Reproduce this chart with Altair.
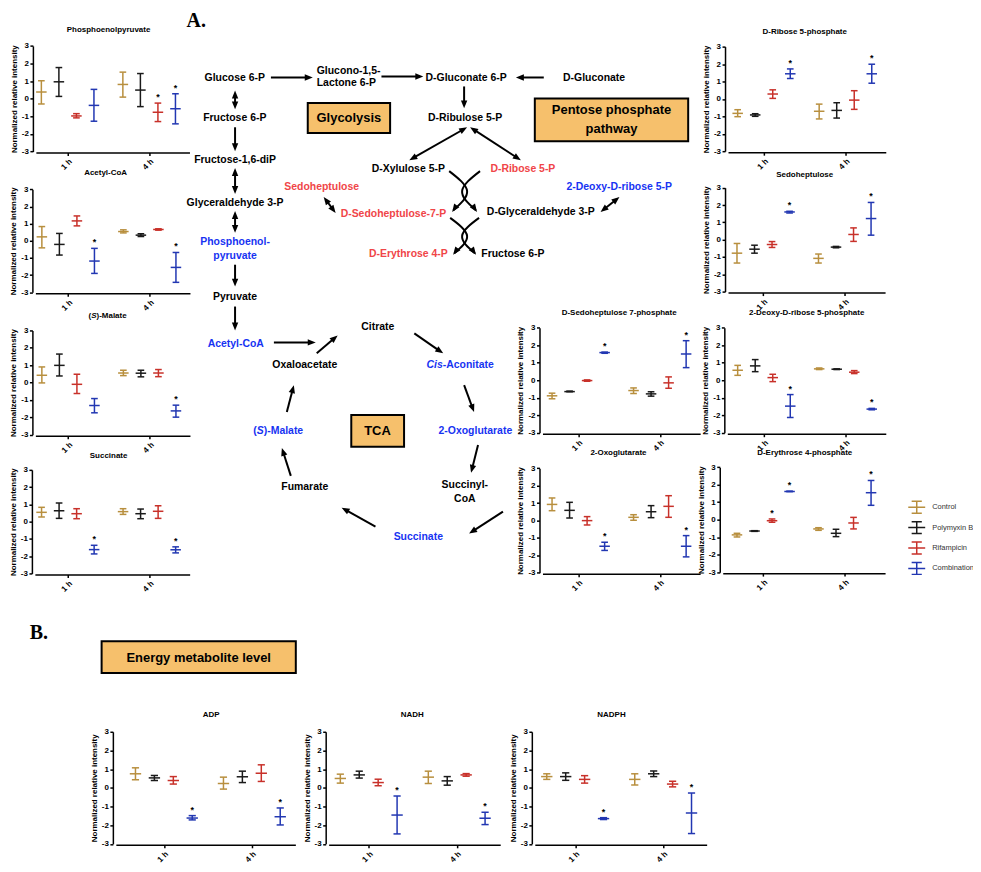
import math
import altair as alt
import pandas as pd

OFF = 8
W, H = 969, 856
FONT = "Liberation Sans"
SERIF = "Liberation Serif"

TREATMENTS = ["Control", "Polymyxin B", "Rifampicin", "Combination"]
COLORS = ["#B88F3E", "#1A1A1A", "#C8312A", "#2237B2"]
TIMES = ["1 h", "4 h"]

# order of every list: 1 h (Control, Polymyxin B, Rifampicin, Combination), 4 h (same)
PEP_MEAN = [0.38, 0.96, -0.98, -0.38, 0.81, 0.49, -0.77, -0.57]
PEP_HI = [1.02, 1.77, -0.85, 0.53, 1.51, 1.43, -0.25, 0.28]
PEP_LO = [-0.30, 0.13, -1.09, -1.28, 0.09, -0.45, -1.30, -1.43]
PEP_STAR = [0, 0, 0, 0, 0, 0, 1, 1]

ACO_MEAN = [0.23, -0.21, 1.16, -1.18, 0.54, 0.33, 0.66, -1.55]
ACO_HI = [0.83, 0.43, 1.45, -0.44, 0.64, 0.41, 0.70, -0.68]
ACO_LO = [-0.41, -0.83, 0.87, -1.90, 0.46, 0.25, 0.62, -2.42]
ACO_STAR = [0, 0, 0, 1, 0, 0, 0, 1]

MAL_MEAN = [0.42, 0.99, -0.10, -1.32, 0.55, 0.54, 0.55, -1.63]
MAL_HI = [0.90, 1.64, 0.48, -0.92, 0.71, 0.71, 0.75, -1.30]
MAL_LO = [-0.02, 0.38, -0.63, -1.74, 0.40, 0.33, 0.34, -1.99]
MAL_STAR = [0, 0, 0, 0, 0, 0, 0, 1]

SUC_MEAN = [0.54, 0.63, 0.46, -1.62, 0.58, 0.46, 0.60, -1.63]
SUC_HI = [0.83, 1.08, 0.75, -1.37, 0.75, 0.73, 0.92, -1.46]
SUC_LO = [0.27, 0.19, 0.17, -1.87, 0.42, 0.17, 0.19, -1.81]
SUC_STAR = [0, 0, 0, 1, 0, 0, 0, 1]

R5P_MEAN = [-0.83, -0.92, 0.28, 1.44, -0.71, -0.66, -0.07, 1.44]
R5P_HI = [-0.62, -0.85, 0.52, 1.72, -0.30, -0.22, 0.47, 1.99]
R5P_LO = [-1.02, -1.00, 0.03, 1.17, -1.15, -1.10, -0.60, 0.90]
R5P_STAR = [0, 0, 0, 1, 0, 0, 0, 1]

SED_MEAN = [-0.78, -0.55, -0.28, 1.60, -1.08, -0.43, 0.30, 1.22]
SED_HI = [-0.22, -0.32, -0.11, 1.64, -0.83, -0.39, 0.68, 2.15]
SED_LO = [-1.35, -0.78, -0.45, 1.54, -1.35, -0.47, -0.10, 0.26]
SED_STAR = [0, 0, 0, 1, 0, 0, 0, 1]

S7P_MEAN = [-0.89, -0.65, -0.02, 1.58, -0.59, -0.78, -0.15, 1.50]
S7P_HI = [-0.74, -0.62, 0.02, 1.61, -0.44, -0.66, 0.19, 2.26]
S7P_LO = [-1.06, -0.66, -0.06, 1.54, -0.76, -0.91, -0.46, 0.72]
S7P_STAR = [0, 0, 0, 1, 0, 0, 0, 1]

DR5P_MEAN = [0.57, 0.82, 0.15, -1.48, 0.65, 0.63, 0.46, -1.65]
DR5P_HI = [0.85, 1.18, 0.34, -0.82, 0.70, 0.65, 0.55, -1.61]
DR5P_LO = [0.28, 0.49, -0.08, -2.13, 0.61, 0.61, 0.38, -1.69]
DR5P_STAR = [0, 0, 0, 1, 0, 0, 0, 1]

OXO_MEAN = [0.92, 0.58, -0.01, -1.48, 0.18, 0.50, 0.81, -1.48]
OXO_HI = [1.29, 1.04, 0.22, -1.25, 0.33, 0.85, 1.42, -0.87]
OXO_LO = [0.56, 0.14, -0.26, -1.72, 0.01, 0.16, 0.18, -2.09]
OXO_STAR = [0, 0, 0, 1, 0, 0, 0, 1]

E4P_MEAN = [-0.87, -0.65, -0.06, 1.61, -0.53, -0.78, -0.19, 1.54]
E4P_HI = [-0.78, -0.63, 0.04, 1.63, -0.46, -0.55, 0.13, 2.24]
E4P_LO = [-0.99, -0.67, -0.15, 1.60, -0.61, -0.97, -0.53, 0.82]
E4P_STAR = [0, 0, 1, 1, 0, 0, 0, 1]

ADP_MEAN = [0.75, 0.53, 0.39, -1.62, 0.23, 0.59, 0.78, -1.55]
ADP_HI = [1.07, 0.66, 0.60, -1.49, 0.57, 0.89, 1.23, -1.08]
ADP_LO = [0.43, 0.39, 0.20, -1.72, -0.07, 0.28, 0.34, -1.99]
ADP_STAR = [0, 0, 0, 1, 0, 0, 0, 1]

NADH_MEAN = [0.50, 0.69, 0.28, -1.46, 0.57, 0.37, 0.69, -1.63]
NADH_HI = [0.73, 0.89, 0.46, -0.44, 0.89, 0.60, 0.76, -1.31]
NADH_LO = [0.25, 0.52, 0.11, -2.47, 0.23, 0.14, 0.62, -1.97]
NADH_STAR = [0, 0, 0, 1, 0, 0, 0, 1]

NADPH_MEAN = [0.60, 0.60, 0.45, -1.65, 0.45, 0.75, 0.20, -1.35]
NADPH_HI = [0.75, 0.80, 0.65, -1.60, 0.75, 0.90, 0.35, -0.28]
NADPH_LO = [0.45, 0.40, 0.25, -1.70, 0.15, 0.60, 0.05, -2.45]
NADPH_STAR = [0, 0, 0, 1, 0, 0, 0, 1]

# ---------------- layout (reference pixel coordinates) ----------------
GAP = 4.65      # offset of the 4 h group, in bar steps
XEND = 8.45     # end of x axis line, in bar steps
BT, BB, BTY = 733, 845.5, 716   # bottom row: top / bottom of y axis, title y
LS = 5          # shift of the left column, keeps its axis titles inside the page

PANELS = [
    dict(title="Phosphoenolpyruvate", d=(PEP_MEAN, PEP_LO, PEP_HI, PEP_STAR), ax=28 + LS, first=36.5 + LS, step=17.6, ytop=44.3, ybot=150.3, tx=104 + LS, ty=28, chan="color", leg=True),
    dict(title="Acetyl-CoA", d=(ACO_MEAN, ACO_LO, ACO_HI, ACO_STAR), ax=27.5 + LS, first=37 + LS, step=17.6, ytop=188.3, ybot=291.7, tx=101 + LS, ty=172, chan="color", leg=False),
    dict(title=None, d=(MAL_MEAN, MAL_LO, MAL_HI, MAL_STAR), ax=27.5 + LS, first=37 + LS, step=17.6, ytop=330, ybot=434.7, tx=103 + LS, ty=316, chan="color", leg=False),
    dict(title="Succinate", d=(SUC_MEAN, SUC_LO, SUC_HI, SUC_STAR), ax=27 + LS, first=36.7 + LS, step=17.6, ytop=470, ybot=574, tx=104 + LS, ty=455.7, chan="color", leg=False),
    dict(title="D-Ribose 5-phosphate", d=(R5P_MEAN, R5P_LO, R5P_HI, R5P_STAR), ax=728, first=740.7, step=17.6, ytop=45, ybot=150, tx=808, ty=30, chan="color", leg=False),
    dict(title="Sedoheptulose", d=(SED_MEAN, SED_LO, SED_HI, SED_STAR), ax=728, first=740, step=17.6, ytop=186.7, ybot=291, tx=808, ty=174, chan="color", leg=False),
    dict(title="D-Sedoheptulose 7-phosphate", d=(S7P_MEAN, S7P_LO, S7P_HI, S7P_STAR), ax=541.7, first=554.3, step=17.6, ytop=327.3, ybot=432.7, tx=621.7, ty=313, chan="color", leg=False),
    dict(title="2-Deoxy-D-ribose 5-phosphate", d=(DR5P_MEAN, DR5P_LO, DR5P_HI, DR5P_STAR), ax=727.3, first=740.7, step=17.6, ytop=327.3, ybot=432.7, tx=810, ty=313, chan="color", leg=False),
    dict(title="2-Oxoglutarate", d=(OXO_MEAN, OXO_LO, OXO_HI, OXO_STAR), ax=541.7, first=554.3, step=17.6, ytop=468.3, ybot=573.3, tx=621, ty=453.3, chan="color", leg=False),
    dict(title="D-Erythrose 4-phosphate", d=(E4P_MEAN, E4P_LO, E4P_HI, E4P_STAR), ax=722.7, first=740, step=17.6, ytop=467.3, ybot=572.7, tx=808, ty=453.3, chan="color", leg=False),
    dict(title="ADP", d=(ADP_MEAN, ADP_LO, ADP_HI, ADP_STAR), ax=113.3, first=136, step=19, ytop=BT, ybot=BB, tx=212, ty=BTY, chan="stroke", leg=True),
    dict(title="NADH", d=(NADH_MEAN, NADH_LO, NADH_HI, NADH_STAR), ax=327, first=341.7, step=19, ytop=BT, ybot=BB, tx=414, ty=BTY, chan="stroke", leg=False),
    dict(title="NADPH", d=(NADPH_MEAN, NADPH_LO, NADPH_HI, NADPH_STAR), ax=534, first=549, step=19, ytop=BT, ybot=BB, tx=614, ty=BTY, chan="stroke", leg=False),
]

RED = "#F04548"
BLUE = "#1733F2"
BLACK = "#000000"
BOXFILL = "#F6C06C"

TEXTS = []


def T(txt, x, y, col=BLACK, fs=10.5, align="center", italic=False, family=FONT, weight="bold"):
    TEXTS.append(dict(txt=txt, px=x - OFF, py=y - OFF, col=col, fs=fs, align=align,
                      italic=italic, family=family, weight=weight))


# diagram labels
T("A.", 197, 19, fs=20, family=SERIF)
T("B.", 39, 634, fs=20, family=SERIF)
T("Glucose 6-P", 235.7, 76.7)
T("Glucono-1,5-", 318, 69, align="left")
T("Lactone 6-P", 318, 82, align="left")
T("D-Gluconate 6-P", 468, 76.7)
T("D-Gluconate", 596.5, 76.7)
T("Fructose 6-P", 235.7, 117)
T("Glycolysis", 350.3, 117, fs=13)
T("D-Ribulose 5-P", 467, 117)
T("Pentose phosphate", 614, 109, fs=13)
T("pathway", 614, 128, fs=13)
T("Fructose-1,6-diP", 236, 159)
T("D-Xylulose 5-P", 410, 168)
T("D-Ribose 5-P", 525, 168, col=RED)
T("Sedoheptulose", 323, 185.7, col=RED)
T("2-Deoxy-D-ribose 5-P", 621.7, 185.7, col=BLUE)
T("Glyceraldehyde 3-P", 236, 201.7)
T("D-Sedoheptulose-7-P", 395, 213.3, col=RED)
T("D-Glyceraldehyde 3-P", 543, 210.7)
T("Phosphoenol-", 236, 241.7, col=BLUE)
T("pyruvate", 236, 255, col=BLUE)
T("D-Erythrose 4-P", 410, 253.3, col=RED)
T("Fructose 6-P", 515, 253.3)
T("Pyruvate", 236, 296)
T("Acetyl-CoA", 236.7, 343.3, col=BLUE)
T("Citrate", 379.3, 326.7)
T("Oxaloacetate", 306, 364.3)
T("Cis", 428.3, 364.3, col=BLUE, align="left", italic=True)
T("-Aconitate", 444.6, 364.3, col=BLUE, align="left")
T("TCA", 379, 431, fs=13)
T("(", 254.3, 431, col=BLUE, align="left")
T("S", 257.8, 431, col=BLUE, align="left", italic=True)
T(")-Malate", 264.8, 431, col=BLUE, align="left")
T("2-Oxoglutarate", 477.3, 430.7, col=BLUE)
T("Fumarate", 306, 487.3)
T("Succinyl-", 466.7, 485.7)
T("CoA", 466.7, 499)
T("Succinate", 420, 537, col=BLUE)
T("Energy metabolite level", 199.5, 658.5, fs=13)

# panel titles
for p in PANELS:
    if p["title"]:
        T(p["title"], p["tx"], p["ty"], fs=8)
# (S)-Malate panel title with italic S
T("(", 83.9 + LS, 316, fs=8, align="left")
T("S", 86.6 + LS, 316, fs=8, align="left", italic=True)
T(")-Malate", 91.9 + LS, 316, fs=8, align="left")

BOXES = [
    (309, 101.7, 391.7, 131.7),
    (537, 97, 691, 140),
    (352.7, 415, 405.7, 446.7),
    (102, 642, 297, 674),
]

# straight arrows: x1, y1, x2 (tip), y2 (tip), double-headed
ARROWS = [
    (272, 76, 314, 76, False),
    (383, 75, 425, 75, False),
    (546, 76, 518, 76, False),
    (236, 89, 236, 108, True),
    (466, 85, 466, 107, False),
    (236, 126, 236, 150, False),
    (469, 126, 411, 159, True),
    (472, 126, 523, 159, True),
    (236, 167, 236, 193, True),
    (325, 196, 337, 212, True),
    (603, 211, 622, 196, True),
    (236, 210, 236, 232, True),
    (236, 264, 236, 286, False),
    (236, 306, 236, 330, False),
    (275, 342, 317, 342, False),
    (318, 353, 339, 335, False),
    (416, 333, 445, 353, False),
    (466, 385, 476, 412, False),
    (480, 445, 473, 473, False),
    (505, 512, 471, 534, False),
    (377, 527, 343, 508, False),
    (292, 476, 283, 448, False),
    (288, 412, 295, 385, False),
]

# curved arrows (start, middle, tip)
ARCS = [
    [(451, 170), (469, 190), (454, 211)],
    [(482, 170), (464, 190), (479, 211)],
    [(452, 217), (469, 235), (455, 254)],
    [(481, 217), (464, 235), (478, 254)],
]

HEAD = "M1,0L-1,-0.8L-1,0.8Z"
HL = 4.0  # half length of the arrow head

rule_rows, head_rows, arc_rows = [], [], []


def add_head(tx, ty, ux, uy):
    ang = math.degrees(math.atan2(uy, ux)) % 360
    head_rows.append(dict(hx=tx - HL * ux - OFF, hy=ty - HL * uy - OFF, ang=ang))


for x1, y1, x2, y2, dbl in ARROWS:
    dx, dy = x2 - x1, y2 - y1
    L = math.hypot(dx, dy)
    ux, uy = dx / L, dy / L
    sx, sy = (x1 + HL * ux, y1 + HL * uy) if dbl else (x1, y1)
    rule_rows.append(dict(x1=sx - OFF, y1=sy - OFF, x2=x2 - HL * ux - OFF, y2=y2 - HL * uy - OFF))
    add_head(x2, y2, ux, uy)
    if dbl:
        add_head(x1, y1, -ux, -uy)

for i, pts in enumerate(ARCS):
    (ax_, ay_), (mx, my), (ex, ey) = pts
    dx, dy = ex - mx, ey - my
    L = math.hypot(dx, dy)
    ux, uy = dx / L, dy / L
    for j, (px, py) in enumerate([(ax_, ay_), (mx, my), (ex - 2 * ux, ey - 2 * uy)]):
        arc_rows.append(dict(arc=i, seq=j, px=px - OFF, py=py - OFF))
    add_head(ex, ey, ux, uy)

IX = lambda f: alt.X(f, scale=None, axis=None)
IY = lambda f: alt.Y(f, scale=None, axis=None)

layers = []

box_df = pd.DataFrame([dict(bx1=a - OFF, by1=b - OFF, bx2=c - OFF, by2=d - OFF) for a, b, c, d in BOXES])
layers.append(alt.Chart(box_df).mark_rect(fill=BOXFILL, stroke="black", strokeWidth=2).encode(
    x=IX("bx1:Q"), x2="bx2:Q", y=IY("by1:Q"), y2="by2:Q"))

layers.append(alt.Chart(pd.DataFrame(rule_rows)).mark_rule(color="black", strokeWidth=2).encode(
    x=IX("x1:Q"), y=IY("y1:Q"), x2="x2:Q", y2="y2:Q"))

layers.append(alt.Chart(pd.DataFrame(arc_rows)).mark_line(color="black", strokeWidth=2, interpolate="natural").encode(
    x=IX("px:Q"), y=IY("py:Q"), detail="arc:N", order="seq:Q"))

layers.append(alt.Chart(pd.DataFrame(head_rows)).mark_point(shape=HEAD, filled=True, color="black", size=64, opacity=1, strokeWidth=0).encode(
    x=IX("hx:Q"), y=IY("hy:Q"), angle=alt.Angle("ang:Q", scale=None)))

tdf = pd.DataFrame(TEXTS)
for (align, italic, family, weight), g in tdf.groupby(["align", "italic", "family", "weight"]):
    layers.append(alt.Chart(g).mark_text(
        align=align, baseline="middle", font=family, fontWeight=weight,
        fontStyle="italic" if italic else "normal").encode(
        x=IX("px:Q"), y=IY("py:Q"), text="txt:N",
        fill=alt.Fill("col:N", scale=None), size=alt.Size("fs:Q", scale=None)))

CSCALE = alt.Scale(domain=TREATMENTS, range=COLORS)
LEG_PATH = "M-0.6,-0.7H0.6M0,-0.7V0.7M-0.6,0.7H0.6M-1,0H1"


def legend(x, y, rp, sym, fs, lo):
    return alt.Legend(orient="none", legendX=x - OFF, legendY=y - OFF, title=None,
                      symbolType=LEG_PATH, symbolSize=sym * sym, symbolStrokeWidth=1.5,
                      symbolFillColor="transparent", labelFont=FONT, labelFontSize=fs,
                      labelColor="#333333", labelOffset=lo, rowPadding=rp, padding=0)


LEGENDS = {"color": legend(911, 498, 1.5, 17, 7.5, 6), "stroke": legend(717, 765, 1.5, 19, 8.5, 8)}

for p in PANELS:
    mean, lo, hi, star = p["d"]
    df = pd.DataFrame({
        "trt": [TREATMENTS[i % 4] for i in range(8)],
        "t": [i // 4 for i in range(8)],
        "k": [i % 4 for i in range(8)],
        "mean": mean, "lo": lo, "hi": hi, "star": star,
    })
    step, first = p["step"], p["first"]
    d0 = (p["ax"] + 3 - first) / step
    xs = alt.Scale(domain=[d0, XEND], range=[first - OFF + d0 * step, first - OFF + XEND * step],
                   nice=False, zero=False)
    ys = alt.Scale(domain=[-3, 3], range=[p["ybot"] - OFF, p["ytop"] - OFF], nice=False, zero=False)
    xaxis = alt.Axis(orient="bottom", offset=(p["ybot"] + 1 - OFF) - H, values=[1.5, 1.5 + GAP],
                     labelExpr="datum.value < 4 ? '1 h' : '4 h'", labelAngle=-45, labelFontSize=8,
                     labelFontWeight="bold", labelColor="black", tickSize=3, tickWidth=1.5,
                     tickColor="black", domainColor="black", domainWidth=1.5, grid=False,
                     title=None, labelPadding=2, labelFont=FONT)
    yaxis = alt.Axis(orient="left", offset=-(p["ax"] - OFF), values=[-3, -2, -1, 0, 1, 2, 3],
                     labelExpr="'' + datum.value", labelFontSize=8, labelFontWeight="bold",
                     labelColor="black", tickSize=3, tickWidth=1.5, tickColor="black",
                     domainColor="black", domainWidth=1.5, grid=False,
                     title="Normalized relative intensity", titleFontSize=8, titleFontWeight="bold",
                     titleColor="black", titlePadding=3, labelPadding=1.5, labelFont=FONT, titleFont=FONT)
    chan = p["chan"]
    leg = LEGENDS[chan] if p["leg"] else None

    def cenc(with_legend=False, chan=chan, leg=leg):
        if chan == "color":
            return {"color": alt.Color("trt:N", scale=CSCALE, legend=leg if with_legend else None)}
        return {"stroke": alt.Stroke("trt:N", scale=CSCALE, legend=leg if with_legend else None)}

    base = alt.Chart(df).transform_calculate(pos=f"datum.t * {GAP} + datum.k")
    layers.append(base.mark_rule(strokeWidth=1.5).encode(
        x=alt.X("pos:Q", scale=xs, axis=xaxis), y=alt.Y("lo:Q", scale=ys, axis=yaxis), y2="hi:Q",
        **cenc(True)))
    layers.append(base.transform_calculate(xa="datum.pos - 0.3", xb="datum.pos + 0.3").mark_rule(strokeWidth=1.5).encode(
        x=alt.X("xa:Q", scale=xs, axis=None), x2="xb:Q", y=alt.Y("mean:Q", scale=ys, axis=None), **cenc()))
    layers.append(base.transform_fold(["lo", "hi"], as_=["which", "v"]).transform_calculate(
        xa="datum.pos - 0.19", xb="datum.pos + 0.19").mark_rule(strokeWidth=1.5).encode(
        x=alt.X("xa:Q", scale=xs, axis=None), x2="xb:Q", y=alt.Y("v:Q", scale=ys, axis=None), **cenc()))
    layers.append(base.transform_filter("datum.star == 1").mark_text(
        text="*", fontSize=9, fontWeight="bold", dy=-6, baseline="middle", color="black").encode(
        x=alt.X("pos:Q", scale=xs, axis=None), y=alt.Y("hi:Q", scale=ys, axis=None)))

chart = alt.layer(*layers).properties(
    width=W, height=H, padding=0, autosize=alt.AutoSizeParams(type="none")
).resolve_scale(x="independent", y="independent").resolve_axis(
    x="independent", y="independent"
).configure(font=FONT).configure_view(strokeWidth=0)

chart.save("out.html", embed_options={"renderer": "svg", "actions": False})
